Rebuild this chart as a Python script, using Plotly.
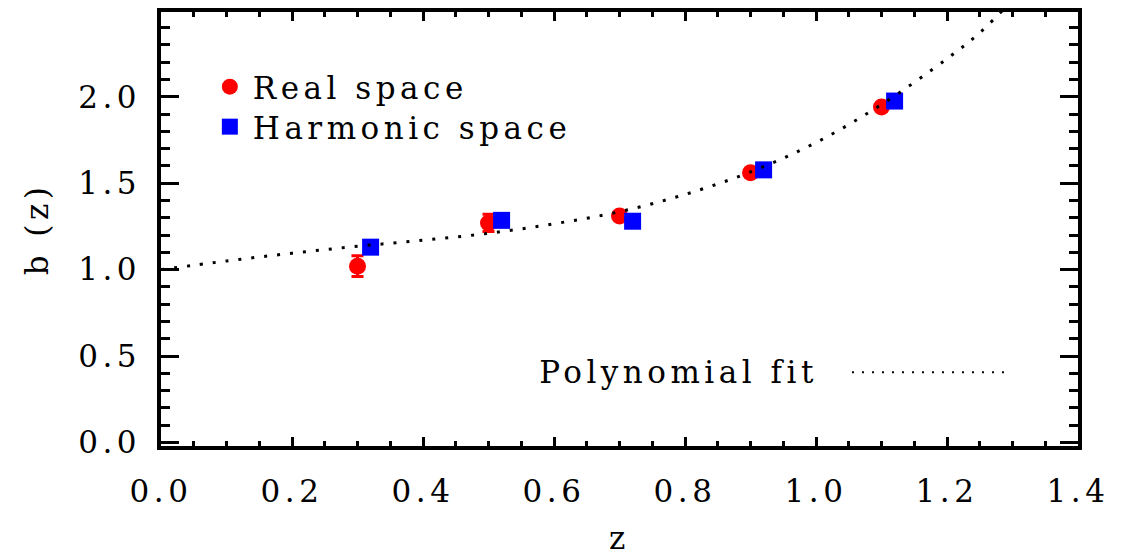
import plotly.graph_objects as go

# Bias measurements in real space
z_real = [0.30, 0.50, 0.70, 0.90, 1.10]
b_real = [1.02, 1.27, 1.31, 1.56, 1.94]
err_real = [0.06, 0.05, 0.02, 0.02, 0.02]

# Bias measurements in harmonic space
z_harm = [0.32, 0.52, 0.72, 0.92, 1.12]
b_harm = [1.13, 1.285, 1.28, 1.577, 1.975]
err_harm = [0.035, 0.03, 0.02, 0.03, 0.03]

# Polynomial fit curve b(z)
z_fit = [0.0, 0.1, 0.2, 0.3, 0.4, 0.5, 0.6, 0.7, 0.8, 0.9, 1.0, 1.1, 1.2, 1.25, 1.30]
b_fit = [1.000, 1.050, 1.095, 1.135, 1.170, 1.210, 1.265, 1.335, 1.435, 1.565,
         1.735, 1.955, 2.220, 2.370, 2.560]

x_ticks = [0.0, 0.2, 0.4, 0.6, 0.8, 1.0, 1.2, 1.4]
y_ticks = [0.0, 0.5, 1.0, 1.5, 2.0]

FONT = "DejaVu Serif"
FS = 31

fig = go.Figure()

fig.add_trace(go.Scatter(
    x=z_real, y=b_real, mode="markers", name="Real space", legend="legend",
    marker=dict(symbol="circle", size=17, color="#ff0000", line=dict(width=0)),
    error_y=dict(type="data", array=err_real, color="#ff0000", thickness=3, width=6),
))
fig.add_trace(go.Scatter(
    x=z_harm, y=b_harm, mode="markers", name="Harmonic space", legend="legend2",
    marker=dict(symbol="square", size=17, color="#0000ff", line=dict(width=0)),
    error_y=dict(type="data", array=err_harm, color="#0000ff", thickness=3, width=6),
))
fig.add_trace(go.Scatter(
    x=z_fit, y=b_fit, mode="lines", name="Polynomial fit", showlegend=False,
    line=dict(color="black", width=3, dash="3px,10px", shape="spline"),
))

# Caption for the fit, with a dotted sample line
fig.add_annotation(
    xref="paper", yref="paper", x=0.565, y=0.17, text="Polynomial fit",
    showarrow=False, xanchor="center", yanchor="middle",
    font=dict(family=FONT, size=FS, color="black"),
)
fig.add_shape(
    type="line", xref="paper", yref="paper", x0=0.7535, x1=0.928, y0=0.17, y1=0.17,
    line=dict(color="black", width=2, dash="2px,8px"),
)

axis_common = dict(
    showgrid=False, zeroline=False, showline=True, linecolor="black", linewidth=3.5,
    mirror="ticks", ticks="inside", tickwidth=3, tickcolor="black",
    tickfont=dict(family=FONT, size=FS, color="black"),
    tickformat=".1f", automargin=False,
)

fig.update_xaxes(
    **axis_common, range=[0, 1.4], tickvals=x_ticks, ticklen=9,
    minor=dict(dtick=0.05, tick0=0, ticks="inside", ticklen=5, tickwidth=2.5, tickcolor="black"),
    ticklabelstandoff=15,
    title=dict(text="z", font=dict(family=FONT, size=FS, color="black"), standoff=28),
)
fig.update_yaxes(
    **axis_common, range=[-0.02, 2.49], tickvals=y_ticks, ticklen=18,
    minor=dict(dtick=0.1, tick0=0, ticks="inside", ticklen=9, tickwidth=2.5, tickcolor="black"),
    ticklabelstandoff=10,
    title=dict(text="b (z)", font=dict(family=FONT, size=FS, color="black"), standoff=35),
)

legend_common = dict(
    xanchor="left", yanchor="middle",
    bgcolor="rgba(0,0,0,0)", borderwidth=0,
    font=dict(family=FONT, size=FS, color="black"),
    itemwidth=36,
)

fig.update_layout(
    width=1135, height=556,
    margin=dict(l=161, r=57, t=12, b=110),
    plot_bgcolor="white", paper_bgcolor="white",
    font=dict(family=FONT, size=FS, color="black"),
    legend=dict(**legend_common, x=0.05, y=(446 - 87) / 434),
    legend2=dict(**legend_common, x=0.05, y=(446 - 127) / 434),
    showlegend=True,
)

# Wider letter spacing for all chart text; legend boxes are not clipped
spacing_js = (
    "document.querySelectorAll('.main-svg text').forEach(function(t){"
    "t.style.letterSpacing='4.5px';});"
    "document.querySelectorAll('.infolayer .scrollbox, .infolayer [clip-path]')"
    ".forEach(function(g){g.removeAttribute('clip-path');});"
)

fig.write_html("out.html", post_script=spacing_js)
